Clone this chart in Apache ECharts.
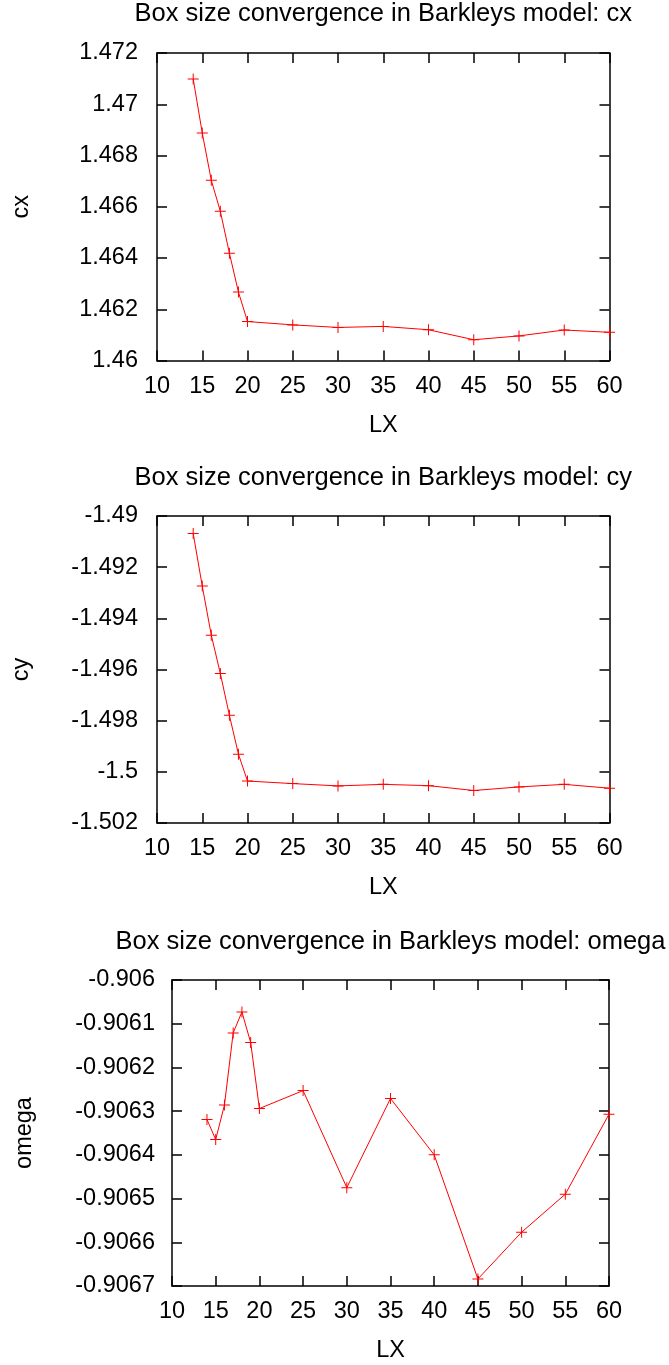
<!DOCTYPE html>
<html>
<head>
<meta charset="utf-8">
<script src="https://cdn.jsdelivr.net/npm/echarts@6/dist/echarts.min.js"></script>
<style>
  html, body { margin: 0; padding: 0; background: #fff; }
  #chart { width: 669px; height: 1365px; }
</style>
</head>
<body>
<div id="chart"></div>
<script>
// Box size LX used in each run
const lx = [14, 15, 16, 17, 18, 19, 20, 25, 30, 35, 40, 45, 50, 55, 60];

// Converged values for each box size
const cx = [1.47099, 1.46888, 1.46703, 1.46582, 1.46419, 1.46267, 1.46152,
            1.46139, 1.46129, 1.46133, 1.46120, 1.46081, 1.46096, 1.46119, 1.46110];
const cy = [-1.49068, -1.49274, -1.49466, -1.49616, -1.49779, -1.49931, -1.50036,
            -1.50046, -1.50055, -1.50049, -1.50054, -1.50073, -1.50059, -1.50049, -1.50064];
const omega = [-0.906319, -0.906365, -0.906286, -0.906121, -0.906073, -0.906143, -0.906294,
               -0.906253, -0.906475, -0.906271, -0.906400, -0.906684, -0.906577, -0.906490, -0.906307];

const titles = [
  'Box size convergence in Barkleys model: cx',
  'Box size convergence in Barkleys model: cy',
  'Box size convergence in Barkleys model: omega'
];
const yNames = ['cx', 'cy', 'omega'];
const yRanges = [
  { min: 1.460, max: 1.472, interval: 0.002 },
  { min: -1.502, max: -1.490, interval: 0.002 },
  { min: -0.9067, max: -0.9060, interval: 0.0001 }
];
const yDecimals = [3, 3, 4];

const FONT = 'Liberation Sans, Arial, sans-serif';
const FS = 23.5;
const TITLE_FS = 25.5;

const grids = [
  { left: 157, right: 59.5, top: 53, height: 307.5 },
  { left: 157, right: 59.5, top: 516, height: 307 },
  { left: 172, right: 60, top: 980, height: 306 }
];
const titleTops = [1, 465, 929];
const yNameGaps = [123, 123, 135];

const frameLine = { show: true, lineStyle: { color: '#000', width: 1.5 } };
const innerTick = { show: true, inside: true, length: 10, lineStyle: { color: '#000', width: 1.5 } };

function fmtY(v, d) {
  // gnuplot-style labels: trailing zeros trimmed
  return String(parseFloat(v.toFixed(d)));
}

const series = [[...cx], [...cy], [...omega]];
const option = {
  backgroundColor: '#fff',
  animation: false,
  textStyle: { fontFamily: FONT },
  title: titles.map((t, i) => ({
    text: t,
    left: grids[i].left + (669 - grids[i].left - grids[i].right) / 2,
    textAlign: 'center',
    top: titleTops[i],
    padding: 0,
    textStyle: { fontFamily: FONT, fontSize: TITLE_FS, fontWeight: 'normal', color: '#000' }
  })),
  grid: grids.map(g => Object.assign({ containLabel: false }, g)),
  xAxis: [],
  yAxis: [],
  series: []
};

for (let i = 0; i < 3; i++) {
  // bottom axis with labels
  option.xAxis.push({
    type: 'value', gridIndex: i, min: 10, max: 60, interval: 5,
    name: 'LX', nameLocation: 'middle', nameGap: 53,
    nameTextStyle: { fontFamily: FONT, fontSize: FS, color: '#000' },
    axisLine: frameLine, axisTick: innerTick,
    axisLabel: { fontFamily: FONT, fontSize: FS, color: '#000', margin: 14 },
    splitLine: { show: false }
  });
  // top axis: frame edge with mirrored ticks
  option.xAxis.push({
    type: 'value', gridIndex: i, position: 'top', min: 10, max: 60, interval: 5,
    axisLine: frameLine, axisTick: innerTick, axisLabel: { show: false }, splitLine: { show: false }
  });
  const r = yRanges[i];
  option.yAxis.push({
    type: 'value', gridIndex: i, min: r.min, max: r.max, interval: r.interval,
    name: yNames[i], nameLocation: 'middle', nameGap: yNameGaps[i], nameRotate: 90,
    nameTextStyle: { fontFamily: FONT, fontSize: FS, color: '#000' },
    axisLine: frameLine, axisTick: innerTick,
    axisLabel: {
      fontFamily: FONT, fontSize: FS, color: '#000', margin: i === 2 ? 17 : 19,
      formatter: v => fmtY(v, yDecimals[i])
    },
    splitLine: { show: false }
  });
  option.yAxis.push({
    type: 'value', gridIndex: i, position: 'right', min: r.min, max: r.max, interval: r.interval,
    axisLine: frameLine, axisTick: innerTick, axisLabel: { show: false }, splitLine: { show: false }
  });
  option.series.push({
    type: 'line',
    xAxisIndex: 2 * i, yAxisIndex: 2 * i,
    data: lx.map((x, k) => [x, series[i][k]]),
    symbol: 'path://M5,0H6V11H5ZM0,5H11V6H0Z',
    symbolSize: 11,
    itemStyle: { color: '#ff0000' },
    lineStyle: { color: '#ff0000', width: 1 },
    clip: false
  });
}

const chart = echarts.init(document.getElementById('chart'), null, { renderer: 'canvas' });
chart.setOption(option);
</script>
</body>
</html>
